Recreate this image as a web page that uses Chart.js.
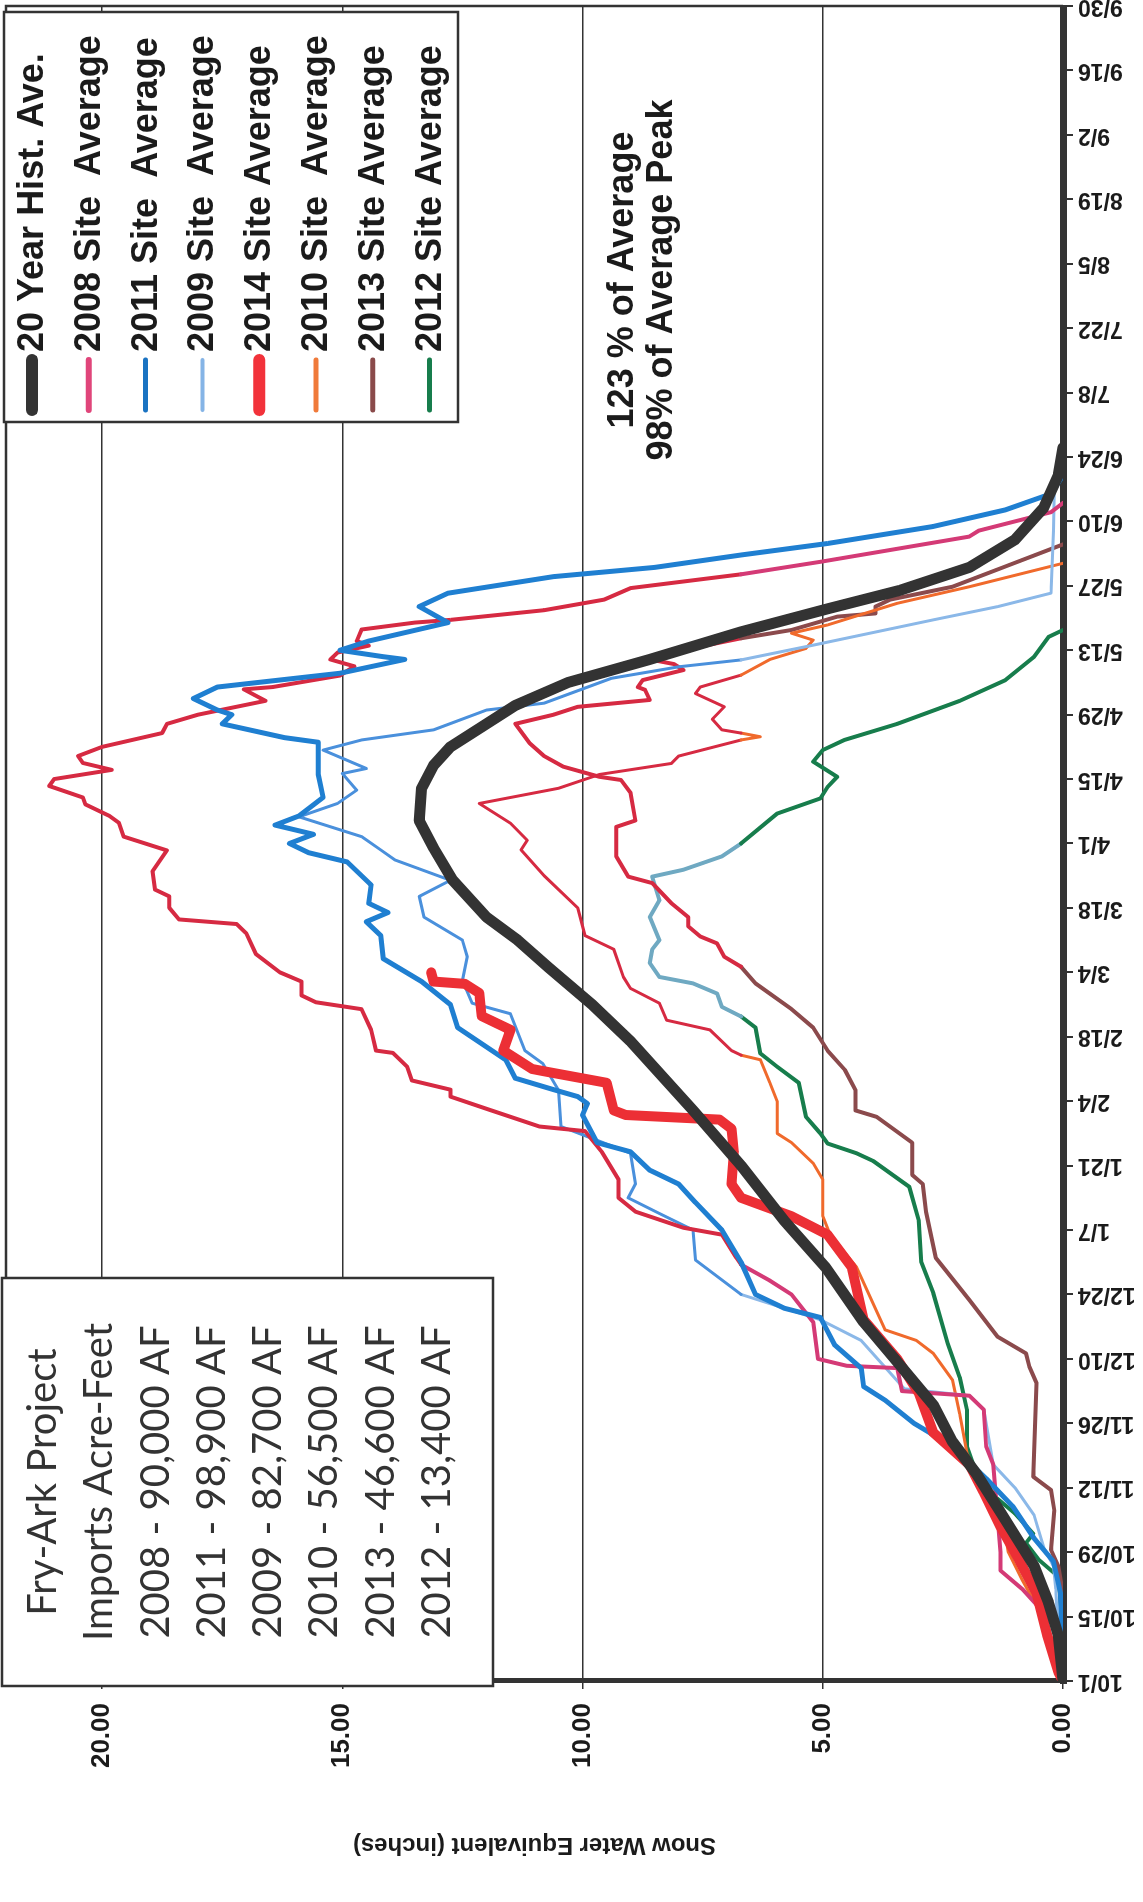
<!DOCTYPE html>
<html>
<head>
<meta charset="utf-8">
<script src="https://cdn.jsdelivr.net/npm/chart.js@4.4.1/dist/chart.umd.min.js"></script>
<style>
  html, body { margin:0; padding:0; background:#fff; overflow:hidden; }
  body { width:1143px; height:1902px; position:relative; }
  /* the scanned page is turned on its side: draw landscape, then rotate */
  #page { position:absolute; left:0; top:0; width:1902px; height:1143px;
          transform-origin:0 0; transform:translate(0,1902px) rotate(-90deg); }
</style>
</head>
<body>
<div id="page"><canvas id="swe" width="1902" height="1143"></canvas></div>
<script>
/* DATA : [day of water year (10/1 = 0), inches] */
const dateLabels = ["10/1","10/15","10/29","11/12","11/26","12/10","12/24","1/7","1/21","2/4","2/18","3/4","3/18",
  "4/1","4/15","4/29","5/13","5/27","6/10","6/24","7/8","7/22","8/5","8/19","9/2","9/16","9/30"];
const sweTicks = [0, 5, 10, 15, 20];

const seriesNames = ["20 Year Hist. Ave.","2008 Site  Average","2011 Site  Average","2009 Site  Average",
  "2014 Site Average","2010 Site  Average","2013 Site Average","2012 Site Average"];

const importLines = ["Fry-Ark Project","Imports Acre-Feet","2008 - 90,000 AF","2011 - 98,900 AF",
  "2009 - 82,700 AF","2010 - 56,500 AF","2013 - 46,600 AF","2012 - 13,400 AF"];
const noteLines = ["123 % of Average","98% of Average Peak"];

const hist20 = [[0,0],[10,0.1],[17,0.3],[25,0.6],[35,1.2],[45,1.8],[52,2.3],[60,2.7],[70,3.5],[78,4.15],[90,4.95],
  [100,5.8],[112,6.7],[124,7.7],[139,9.0],[147,9.8],[155,10.7],[161,11.35],[166,12.0],[174,12.7],[181,13.1],
  [187,13.4],[194,13.35],[199,13.1],[203,12.75],[208,12.0],[212,11.4],[217,10.3],[222,8.6],[228,6.7],[233,4.9],
  [237,3.4],[242,1.95],[248,1.0],[255,0.4],[262,0.1],[268,0]];

const swe2008 = [[0,0],[4.5,0],[12,0.2],[16,0.5],[20,0.85],[24,1.3],[28,1.3],[47,1.45],[51,1.6],[59,1.65],[62,1.95],
  [63,3.35],[68,3.45],[68.5,4.5],[70,5.1],[78,5.2],[84,5.65],[87,6.1],[90.5,6.7],[92,6.8],[97,7.1],[98.5,7.9],
  [102,8.9],[105,9.25],[109,9.25],[115,9.6],[119.5,9.95],[120.5,10.9],[124,11.9],[127,12.75],[128.5,12.75],
  [130.5,13.55],[133.5,13.65],[136.5,13.95],[137,14.3],[141.5,14.4],[146,14.6],[147.5,15.55],[149,15.85],
  [152,15.85],[154,16.3],[158,16.8],[162.5,17.0],[164.5,17.2],[165.5,18.4],[168,18.6],[170.5,18.6],[172,18.9],
  [176,18.95],[180.5,18.65],[183.5,19.55],[186.5,19.65],[188,19.85],[190.5,20.35],[192,20.4],[194.5,21.1],
  [196,21.0],[198,19.8],[199.5,20.4],[201,20.5],[203,20.0],[206,18.75],[208,18.65],[210,18.0],[213,16.6],
  [215.5,17.05],[216,16.45],[218.5,15.05],[220.5,14.75],[222,15.25],[223.5,15.1],[225,14.45],[226,14.7],
  [228.5,14.6],[230,13.5],[230.6,12.75],[232.7,10.8],[235,9.55],[237.5,9.0],[240.5,6.7],[243.3,5.0],
  [248.7,1.95],[250,1.75],[254,0.25],[256,0]];

const swe2011 = [[0,0],[19,0.05],[26,0.2],[31,0.6],[38,1.05],[44,1.6],[51,2.3],[56,3.1],[61,3.7],[64,4.15],[68,4.2],
  [73,4.75],[79,5.05],[81,5.8],[84,6.4],[91,6.7],[98,7.1],[104,7.65],[108,8.0],[111,8.6],[115,9.0],[117,9.7],
  [123,10.0],[125.5,9.9],[127,10.1],[128.5,10.6],[131,11.4],[135,11.6],[142,12.6],[147,12.75],[152,13.35],
  [157,14.15],[162,14.2],[165,14.5],[167,14.05],[169,14.45],[173,14.4],[178,14.9],[180,15.7],[182,16.1],
  [184,15.6],[186,16.4],[188,15.9],[192,15.4],[197,15.5],[204,15.5],[205,16.2],[208,17.5],[210,17.3],[211,17.6],
  [213.5,18.1],[216,17.6],[219,15.05],[222,13.7],[222.6,14.15],[224,15.05],[226,14.45],[230,12.8],[233.5,13.4],
  [236.4,12.8],[240,10.6],[242,8.5],[244.7,6.7],[247.2,4.9],[250.9,2.7],[254.5,1.2],[258,0.25],[262,0]];

const swe2009 = [[0,0],[10,0.1],[20,0.15],[25,0.2],[29,0.4],[36,0.6],[42,1.0],[47,1.45],[59,1.65],[62,1.95],
  [63.5,3.3],[74,4.2],[78.5,5.05],[84,6.7],[91.5,7.65],[98,7.7],[101.6,8.4],[105,9.05],[108,8.9],[114.7,9.0],
  [120.5,10.45],[128.4,10.5],[134.2,10.83],[137,11.2],[145,11.5],[147.3,12.3],[152.3,12.5],[157.4,12.4],
  [161,12.5],[166,13.3],[170.5,13.4],[174,12.75],[178.4,13.9],[180.6,14.2],[183.5,14.6],[187.8,15.9],
  [190.7,15.1],[193.6,14.7],[197.2,15.0],[198.3,14.5],[202.3,15.4],[204.5,14.6],[206.7,13.1],[211,12.0],
  [212.5,10.8],[217.9,9.4],[220.4,8.0],[221.9,6.7],[225.1,5.2],[230.6,2.7],[233.5,1.35],[236.4,0.25],
  [250,0.2],[258.5,0.18],[262,0]];

const swe2014 = [[0,0],[2,0.1],[10,0.33],[19,0.55],[26,0.9],[33.5,1.3],[41,1.65],[47,1.95],[54,2.7],[62.5,3.0],
  [70,3.45],[78.5,4.15],[90,4.4],[97,4.9],[101,5.65],[105,6.7],[108,6.9],[115,6.85],[120,6.9],[122,7.15],
  [123,9.1],[124,9.35],[130,9.5],[132.5,10.8],[133,11.05],[137,11.65],[141.5,11.5],[144.5,12.1],[149.5,12.15],
  [151.5,12.45],[152,13.1],[154,13.15]];

const swe2010 = [[0,0],[1,0],[8,0.18],[15,0.48],[22,0.85],[28,1.14],[32,1.2],[41,1.6],[49.5,2.0],[58,2.15],
  [65.4,2.3],[71.2,2.7],[74,3.05],[76.3,3.7],[90,4.3],[97,4.85],[101,5.0],[109,5.0],[112.5,5.2],[117,5.65],
  [119,5.95],[126,5.95],[130,6.1],[135,6.3],[136,6.7],[137,6.9],[141.5,7.35],[143.6,8.25],[147.3,8.4],
  [150.5,9.0],[153,9.15],[159,9.35],[162,9.95],[168,10.1],[175,10.8],[180.6,11.28],[182.7,11.15],[186.4,11.5],
  [190.7,12.15],[194,10.5],[197,9.65],[199.4,8.15],[201,8.0],[204.5,6.7],[205.2,6.3],[206,6.7],[206.7,7.1],
  [209,7.3],[211.7,7.05],[214.6,7.65],[216,7.55],[218.6,6.7],[222,6.1],[224.4,5.35],[226.2,5.2],[227.7,5.65],
  [229.5,4.9],[234.2,3.45],[237.8,1.95],[242.9,0]];

const swe2013 = [[0,0],[19,0],[25,0.1],[28.5,0.25],[37,0.18],[41.5,0.25],[44.4,0.62],[64.7,0.55],[68.3,0.7],
  [71.2,0.77],[74.8,1.36],[82.8,1.95],[92,2.65],[102,2.85],[108,2.92],[110,3.14],[117,3.14],[122.6,3.88],
  [124,4.32],[128.4,4.32],[132.8,4.54],[137,4.9],[142,5.2],[146,5.65],[151.6,6.4],[155.2,6.7],[157.4,7.05],
  [160.3,7.2],[161.8,7.55],[164,7.8],[166,7.8],[169,8.15],[173.4,8.55],[174.8,9.05],[179.2,9.3],[185.6,9.3],
  [187,8.9],[193,9.0],[195.8,9.2],[196.5,9.65],[198.7,10.4],[201,10.8],[203.8,11.1],[208,11.4],[210,10.6],
  [211.7,10.1],[213.2,8.6],[215.4,8.7],[216,8.85],[217.5,8.75],[219.7,7.9],[221,8.1],[222,8.6],[223.3,8.25],
  [226.6,6.7],[228.4,5.65],[231.3,4.7],[232,3.9],[233.5,3.9],[235,3.6],[237.8,2.3],[242.2,1.2],[245,0.5],[247,0]];

const swe2012 = [[0,0],[15,0.03],[22.7,0.1],[26.3,0.5],[30,0.77],[32,0.62],[36.4,1.0],[40.8,1.5],[45,1.8],[51,2.0],
  [59,2.0],[66,2.15],[73.4,2.4],[84.3,2.7],[91,2.95],[100,3.0],[107.4,3.2],[113,3.95],[114.7,4.3],[116.8,4.9],
  [119,5.05],[122.6,5.35],[130,5.5],[133.5,5.95],[136.4,6.3],[142,6.4],[144.4,6.7],[146.5,7.1],[149.4,7.2],
  [151.6,7.7],[153,8.4],[156,8.6],[159,8.55],[161,8.4],[166,8.6],[169.7,8.4],[174.8,8.55],[176.3,7.9],
  [179.2,7.1],[182,6.7],[188.5,5.95],[191.8,5.05],[194.3,4.9],[196.5,4.7],[199.8,5.2],[202.3,5.0],[204.5,4.55],
  [208,3.45],[213,2.15],[217.5,1.2],[222.6,0.6],[226.9,0.3],[228.4,0]];

/* STYLE */
const FONT = "'Liberation Sans', Arial, sans-serif";
const INK = "#1b1b1b";
const SCAN_LINE = 6.7;   // above this the scan turns the warm lines red
const legendColors = ["#333333","#e0457a","#1a73c2","#85b4e6","#f2323a","#f07a3a","#8a4a4a","#177d4c"];
const legendWidths = [12, 6, 5, 4, 12, 5, 5, 5];

function line(points, color, width, scanColor){
  const ds = {
    data: points.map(p => ({x: p[0], y: p[1]})),
    borderColor: color, borderWidth: width,
    pointRadius: 0, tension: 0, fill: false,
    borderJoinStyle: "round", borderCapStyle: "round"
  };
  if (scanColor) {
    ds.segment = { borderColor: c => ((c.p0.parsed.y + c.p1.parsed.y) / 2 > SCAN_LINE ? scanColor : color) };
  }
  return ds;
}

function noPadding(s){ s.paddingLeft = 0; s.paddingRight = 0; s.paddingTop = 0; s.paddingBottom = 0; }

/* boxes, legend and notes on top of the plot */
const extras = {
  id: "extras",
  afterDraw(chart){
    const {ctx, chartArea: a} = chart;
    ctx.save();

    // thin frame on the two free sides
    ctx.strokeStyle = "#333"; ctx.lineWidth = 2.5;
    ctx.beginPath(); ctx.moveTo(a.left, a.top); ctx.lineTo(a.right, a.top); ctx.lineTo(a.right, a.bottom); ctx.stroke();

    // legend
    const lx = 1480, lw = 410, ly = 4, lh = 454;
    ctx.fillStyle = "#fff"; ctx.fillRect(lx, ly, lw, lh);
    ctx.strokeStyle = "#333"; ctx.lineWidth = 2.5; ctx.strokeRect(lx, ly, lw, lh);
    ctx.font = "bold 36px " + FONT; ctx.textBaseline = "middle"; ctx.textAlign = "left";
    seriesNames.forEach((name, i) => {
      const y = 32 + i * 56.8;
      ctx.strokeStyle = legendColors[i]; ctx.lineWidth = legendWidths[i]; ctx.lineCap = "round";
      ctx.beginPath(); ctx.moveTo(lx + 12, y); ctx.lineTo(lx + 62, y); ctx.stroke();
      ctx.fillStyle = INK; ctx.fillText(name, lx + 70, y + 1);
    });

    // imports box
    const bx = 216, bw = 408, by = 2, bh = 491;
    ctx.fillStyle = "#fff"; ctx.fillRect(bx, by, bw, bh);
    ctx.strokeStyle = "#333"; ctx.lineWidth = 2.5; ctx.strokeRect(bx, by, bw, bh);
    ctx.font = "40px Lato, 'Open Sans', sans-serif"; ctx.fillStyle = "#333"; ctx.textAlign = "center";
    importLines.forEach((t, i) => ctx.fillText(t, bx + bw / 2, 43 + i * 56.3));

    // notes
    ctx.font = "bold 36px " + FONT; ctx.fillStyle = INK;
    noteLines.forEach((t, i) => ctx.fillText(t, 1622, 623 + i * 39));

    ctx.restore();
  }
};

new Chart(document.getElementById("swe"), {
  type: "line",
  data: {
    datasets: [
      line(hist20, "#333333", 11),
      line(swe2014, "#ec2f35", 10),
      line(swe2011, "#1f7fd1", 5),
      line(swe2008, "#d43a76", 4, "#d62a42"),
      line(swe2009, "#8bb8e8", 3, "#4a90dc"),
      line(swe2010, "#f06a2c", 3, "#d62a42"),
      line(swe2013, "#8b4a4c", 4, "#d62a42"),
      line(swe2012, "#177d4c", 4, "#6fa9c2")
    ]
  },
  options: {
    responsive: false,
    devicePixelRatio: 1,
    animation: false,
    events: [],
    layout: { padding: {top: 6, right: 6, left: 0, bottom: 0}, autoPadding: false },
    plugins: { legend: {display: false}, tooltip: {enabled: false} },
    scales: {
      x: {
        type: "linear", min: 0, max: 364,
        afterBuildTicks: s => { s.ticks = dateLabels.map((l, i) => ({value: i * 14})); },
        afterFit: s => { s.height = 80; noPadding(s); },
        ticks: {
          autoSkip: false, minRotation: 90, maxRotation: 90, padding: 5, color: INK,
          font: {family: FONT, size: 23, weight: "bold"},
          callback: (v, i) => dateLabels[i]
        },
        grid: { drawOnChartArea: false, drawTicks: true, tickLength: 10, color: "#333", lineWidth: 2 },
        border: { display: true, color: "#333", width: 7 }
      },
      y: {
        type: "linear", min: 0, max: 22,
        afterBuildTicks: s => { s.ticks = sweTicks.map(v => ({value: v})); },
        afterFit: s => { s.width = 221; noPadding(s); },
        ticks: {
          padding: 14, color: INK, font: {family: FONT, size: 26, weight: "bold"},
          callback: v => v.toFixed(2)
        },
        grid: { color: "#333", lineWidth: 1.5, tickLength: 8, drawTicks: true },
        border: { display: true, color: "#333", width: 5 },
        title: {
          display: true, text: "Snow Water Equivalent (inches)", color: INK,
          font: {family: FONT, size: 24, weight: "bold"}, padding: {top: 43, bottom: 0}
        }
      }
    }
  },
  plugins: [extras]
});
</script>
</body>
</html>
